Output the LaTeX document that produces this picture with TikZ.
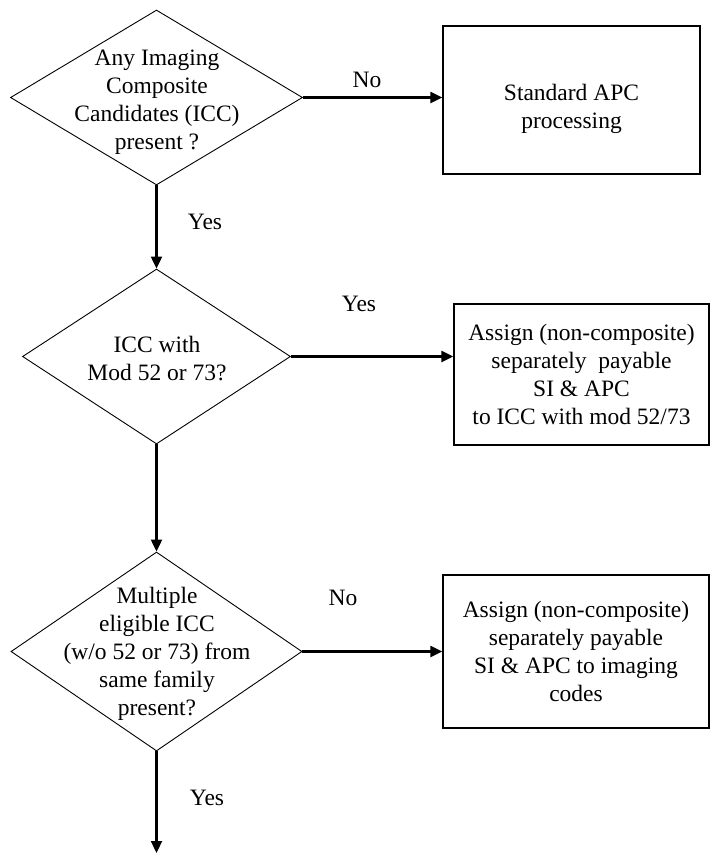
\documentclass[tikz,border=0pt]{standalone}
\usepackage{fontspec}
\setmainfont{Liberation Serif}
\usetikzlibrary{shapes.geometric,arrows.meta}
\tikzset{
    decision/.style={draw,diamond,inner sep=0pt,line width=0.9pt},
    outcome/.style={draw,rectangle,align=center,inner sep=0pt,line width=1.3pt},
    flow/.style={line width=2.2pt,-{Triangle[length=12pt,width=11pt]}},
    answer/.style={inner sep=0pt}
}
\begin{document}
\begin{tikzpicture}
    [x=1pt,y=-1pt,font=\fontsize{23.5}{28}\selectfont]
    \useasboundingbox (0,0) rectangle (711,854);
    %questions
    \node[decision,minimum width=292pt,minimum height=175pt] (q1) at (156.5,97.5) {};
    \node[align=center,inner sep=0pt] (q1text) at (157,102) {Any Imaging\\Composite\\Candidates (ICC)\\present ?};
    \node[decision,minimum width=268pt,minimum height=175pt] (q2) at (156.5,356.5) {};
    \node[align=center,inner sep=0pt] (q2text) at (157,359) {ICC with\\Mod 52 or 73?};
    \node[decision,minimum width=291pt,minimum height=199pt] (q3) at (156.5,651.5) {};
    \node[align=center,inner sep=0pt] (q3text) at (157,654) {Multiple\\eligible ICC\\(w/o 52 or 73) from\\same family\\present?};
    %outcomes
    \node[outcome,minimum width=257pt,minimum height=148pt] (b1) at (571.5,100) {\rule{0pt}{34pt}Standard APC\\processing};
    \node[outcome,minimum width=255pt,minimum height=141pt] (b2) at (581.5,374.5) {Assign (non-composite)\\separately~ payable\\SI \& APC\\to ICC with mod 52/73};
    \node[outcome,minimum width=266pt,minimum height=153pt] (b3) at (576,651.5) {Assign (non-composite)\\separately payable\\SI \& APC to imaging\\codes};
    \coordinate (stop) at (156.5,853);
    %arrows
    \draw[flow] (q1.east) -- (q1.east -| b1.west);
    \draw[flow] (q1.south) -- (q2.north);
    \draw[flow] (q2.east) -- (q2.east -| b2.west);
    \draw[flow] (q2.south) -- (q3.north);
    \draw[flow] (q3.east) -- (q3.east -| b3.west);
    \draw[flow] (q3.south) -- (stop);
    %answers
    \node[answer] (no1) at (367,80) {No};
    \node[answer] (yes1) at (205,222) {Yes};
    \node[answer] (yes2) at (359,304) {Yes};
    \node[answer] (no2) at (343,598) {No};
    \node[answer] (yes3) at (207,798) {Yes};
\end{tikzpicture}
\end{document}
